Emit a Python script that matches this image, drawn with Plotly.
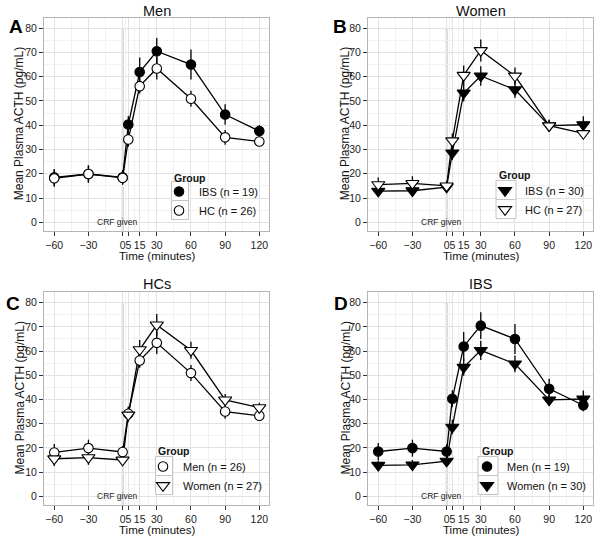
import plotly.graph_objects as go

# ---------------- data ----------------
times = [-60, -30, 0, 5, 15, 30, 60, 90, 120]
x_ticks = [-60, -30, 0, 5, 15, 30, 60, 90, 120]
x_minor = [-45, -15, 2.5, 10, 22.5, 45, 75, 105]
y_ticks = [0, 10, 20, 30, 40, 50, 60, 70, 80]
y_minor = [5, 15, 25, 35, 45, 55, 65, 75]

men_ibs = [18.5, 19.9, 18.5, 40.3, 61.9, 70.5, 65.0, 44.4, 37.6]
men_ibs_err = [3.5, 3.5, 3.0, 3.5, 6.0, 5.5, 6.2, 4.2, 2.5]
men_hc = [18.1, 19.9, 18.3, 34.1, 56.1, 63.4, 50.9, 35.0, 33.3]
men_hc_err = [3.5, 3.5, 2.5, 3.0, 3.0, 4.6, 3.3, 3.0, 1.5]
women_ibs = [12.8, 13.0, 14.5, 28.6, 53.3, 60.3, 54.7, 39.8, 40.2]
women_ibs_err = [2.0, 2.0, 2.0, 3.0, 3.5, 4.0, 3.5, 2.5, 3.5]
women_hc = [15.5, 16.0, 15.0, 33.6, 60.6, 70.8, 60.3, 39.8, 36.6]
women_hc_err = [3.0, 3.0, 2.0, 3.0, 4.0, 4.5, 3.5, 2.5, 2.0]

crf_time = 0
crf_label = "CRF given"

panel_titles = ["Men", "Women", "HCs", "IBS"]
panel_letters = ["A", "B", "C", "D"]
x_title = "Time (minutes)"
y_title = "Mean Plasma ACTH (pg/mL)"
legend_title = "Group"

# each panel: list of (name, values, errors, symbol, filled)
panels = [
    [("IBS (n = 19)", men_ibs, men_ibs_err, "circle", True),
     ("HC (n = 26)", men_hc, men_hc_err, "circle", False)],
    [("IBS (n = 30)", women_ibs, women_ibs_err, "triangle-down", True),
     ("HC (n = 27)", women_hc, women_hc_err, "triangle-down", False)],
    [("Men (n = 26)", men_hc, men_hc_err, "circle", False),
     ("Women (n = 27)", women_hc, women_hc_err, "triangle-down", False)],
    [("Men (n = 19)", men_ibs, men_ibs_err, "circle", True),
     ("Women (n = 30)", women_ibs, women_ibs_err, "triangle-down", True)],
]

# ---------------- layout geometry ----------------
W, H = 601, 538
FONT = "Liberation Sans, Arial, Helvetica, sans-serif"
x_dom_left = [44 / W, 269 / W]
x_dom_right = [368 / W, 593 / W]
y_dom_top = [1 - 231 / H, 1 - 17.5 / H]
y_dom_bot = [1 - 505 / H, 1 - 292 / H]
domains = [(x_dom_left, y_dom_top), (x_dom_right, y_dom_top),
           (x_dom_left, y_dom_bot), (x_dom_right, y_dom_bot)]
x_range = [-69, 128.5]
y_range = [-3.6, 84.4]

# legend placement (pixels): legend left/top, group-title left/center-y
legend_px = [(159, 177), (485, 176), (143, 452), (467, 452)]
group_title_px = [(172, 177.5), (496.5, 175.5), (156, 450.5), (479.5, 450.5)]
key_w = [17, 20, 17, 20]
y_title_x = [19, 345, 19, 345]
x_title_y = [256, 256, 529.5, 529.5]
title_y = [11, 11, 284, 284]
letter_pos = [(16, 27), (340, 27), (13, 303), (341, 303)]

fig = go.Figure()
shapes = []
annotations = []

grid_major = "#e2e2e2"
grid_minor = "#f2f2f2"
border = "#b5b5b5"

for i, (series, (xd, yd)) in enumerate(zip(panels, domains)):
    n = "" if i == 0 else str(i + 1)
    xa, ya = "x" + n, "y" + n
    leg = "legend" + n
    # lines first (under points), with error bars
    for name, vals, errs, sym, filled in series:
        fig.add_trace(go.Scatter(
            x=times, y=vals, mode="lines", xaxis=xa, yaxis=ya,
            line=dict(color="black", width=1.3), showlegend=False,
            error_y=dict(type="data", array=errs, visible=True,
                         color="black", thickness=1.3, width=0),
            hoverinfo="skip"))
    for name, vals, errs, sym, filled in series:
        size = 9.5 if sym == "circle" else 11.5
        fig.add_trace(go.Scatter(
            x=times, y=vals, mode="markers", xaxis=xa, yaxis=ya, name=name,
            legend=leg,
            marker=dict(symbol=sym, size=size,
                        color="black" if filled else "white",
                        line=dict(color="black", width=1.1))))

    fig.update_layout({
        "xaxis" + n: dict(
            domain=xd, anchor=ya, range=x_range, tickmode="array",
            tickvals=x_ticks, tickangle=0, ticks="outside", ticklen=4,
            tickcolor="#333", tickwidth=1,
            tickfont=dict(size=10.5, color="#222", family=FONT),
            showgrid=True, gridcolor=grid_major, gridwidth=1,
            minor=dict(tickmode="array", tickvals=x_minor, showgrid=True,
                       gridcolor=grid_minor, gridwidth=0.6, ticks=""),
            showline=True, linecolor=border, linewidth=1, mirror=True,
            zeroline=False),
        "yaxis" + n: dict(
            domain=yd, anchor=xa, range=y_range, tickmode="array",
            tickvals=y_ticks, ticks="outside", ticklen=4, tickcolor="#333",
            tickwidth=1, tickfont=dict(size=10.5, color="#222", family=FONT),
            showgrid=True, gridcolor=grid_major, gridwidth=1,
            minor=dict(tickmode="array", tickvals=y_minor, showgrid=True,
                       gridcolor=grid_minor, gridwidth=0.6, ticks=""),
            showline=True, linecolor=border, linewidth=1, mirror=True,
            zeroline=False),
        leg: dict(
            x=legend_px[i][0] / W, y=1 - legend_px[i][1] / H,
            xanchor="left", yanchor="top", bgcolor="rgba(0,0,0,0)",
            font=dict(size=11, color="#111", family=FONT),
            itemclick=False, itemdoubleclick=False),
    })

    # CRF vertical line
    shapes.append(dict(type="line", xref=xa, yref=ya, x0=crf_time, x1=crf_time,
                       y0=y_range[0], y1=y_ticks[-1], layer="below",
                       line=dict(color="#aaaaaa", width=1.6)))
    annotations.append(dict(xref=xa, yref=ya, x=crf_time - 5, y=0,
                            text=crf_label, showarrow=False,
                            font=dict(size=8.5, color="#222", family=FONT)))
    # axis titles
    annotations.append(dict(xref="paper", yref="paper",
                            x=(xd[0] + xd[1]) / 2, y=1 - x_title_y[i] / H,
                            xanchor="center", yanchor="middle",
                            text=x_title, showarrow=False,
                            font=dict(size=11.5, color="#111", family=FONT)))
    annotations.append(dict(xref="paper", yref="paper",
                            x=y_title_x[i] / W, y=(yd[0] + yd[1]) / 2,
                            xanchor="center", yanchor="middle", textangle=-90,
                            text=y_title, showarrow=False,
                            font=dict(size=12, color="#111", family=FONT)))
    # panel title
    annotations.append(dict(xref="paper", yref="paper",
                            x=(xd[0] + xd[1]) / 2, y=1 - title_y[i] / H,
                            xanchor="center", yanchor="middle",
                            text=panel_titles[i], showarrow=False,
                            font=dict(size=14.5, color="#111", family=FONT)))
    # panel letter
    lx, ly = letter_pos[i]
    annotations.append(dict(xref="paper", yref="paper", x=lx / W, y=1 - ly / H,
                            xanchor="center", yanchor="middle",
                            text="<b>" + panel_letters[i] + "</b>",
                            showarrow=False,
                            font=dict(size=19, color="black", family=FONT)))
    # legend title
    gx, gy = group_title_px[i]
    annotations.append(dict(xref="paper", yref="paper", x=gx / W, y=1 - gy / H,
                            xanchor="left", yanchor="middle",
                            text="<b>" + legend_title + "</b>", showarrow=False,
                            font=dict(size=10.5, color="#111", family=FONT)))
    # legend key boxes (centred on plotly legend symbols)
    cx = legend_px[i][0] + 21
    cy0 = legend_px[i][1] + 14
    for k in range(len(series)):
        cy = cy0 + 19 * k
        shapes.append(dict(type="rect", xref="paper", yref="paper",
                           x0=(cx - key_w[i] / 2) / W, x1=(cx + key_w[i] / 2) / W,
                           y0=1 - (cy + 9.5) / H, y1=1 - (cy - 9.5) / H,
                           layer="above", fillcolor="white",
                           line=dict(color="#c4c4c4", width=1)))

fig.update_layout(
    width=W, height=H, margin=dict(l=0, r=0, t=0, b=0),
    paper_bgcolor="white", plot_bgcolor="white",
    font=dict(family=FONT, color="#111"),
    shapes=shapes, annotations=annotations,
)

fig.write_html("out.html", config={"displayModeBar": False},
               post_script="document.body.style.margin='0';"
                           "document.body.style.padding='0';")
